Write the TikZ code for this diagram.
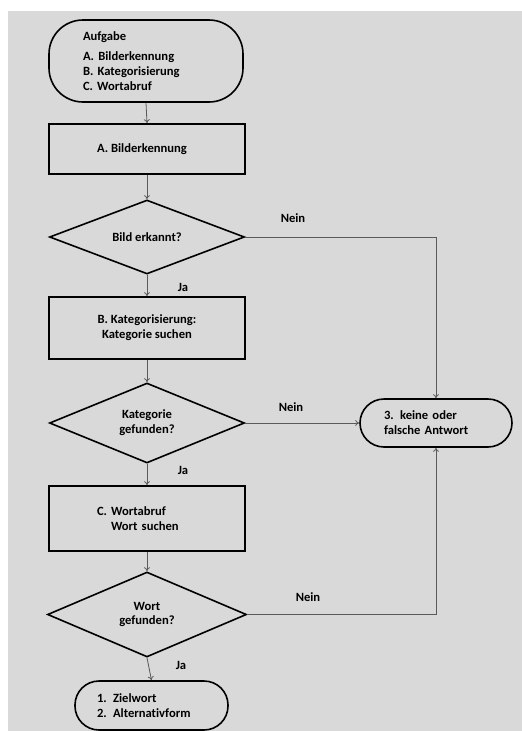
\documentclass[tikz,border=0pt]{standalone}
\usepackage{fontspec}
\setmainfont[Ligatures=NoCommon]{Carlito}
\usetikzlibrary{shapes.geometric,arrows.meta}
\definecolor{bggrey}{HTML}{D9D9D9}
\definecolor{linegrey}{HTML}{5A5A5A}
\begin{document}
\begin{tikzpicture}[x=1pt,y=-1pt,
  every node/.style={font=\bfseries\fontsize{12.6}{14.8}\selectfont, text=black},
  boxnode/.style={draw=black, line width=1.6pt, rectangle, minimum width=196pt, inner sep=0pt},
  termnode/.style={draw=black, line width=1.6pt, rectangle, inner sep=0pt},
  decnode/.style={draw=black, line width=1.6pt, diamond, shape aspect=2.5, inner sep=0pt, align=center},
  conn/.style={draw=linegrey, line width=0.8pt, -{To[length=4pt,width=6pt]}},
  lbl/.style={inner sep=0pt}
]
\useasboundingbox (0,0) rectangle (522,731);
\fill[bggrey] (8,11) rectangle (522,731);

\node[termnode, rounded corners=34pt, minimum width=194pt, minimum height=82pt, text width=126pt, align=left] (start) at (146,61)
  {Aufgabe\\[5pt] A. Bilderkennung\\ B. Kategorisierung\\ C. Wortabruf};
\node[boxnode, minimum height=50pt] (a) at (147,149) {\hspace*{-10pt}A. Bilderkennung};
\node[decnode, minimum width=195pt, minimum height=74pt] (d1) at (147,237) {Bild erkannt?};
\node[boxnode, minimum height=62pt, align=center] (b) at (147,328) {B. Kategorisierung:\\Kategorie suchen};
\node[decnode, minimum width=195pt, minimum height=80pt] (d2) at (147,423) {Kategorie\\gefunden?};
\node[boxnode, minimum height=65pt, text width=100pt, align=left] (c) at (147,518.5) {C. Wortabruf\\\hspace*{14pt}Wort suchen};
\node[decnode, minimum width=199pt, minimum height=85pt] (d3) at (147,614.5) {Wort\\gefunden?};
\node[termnode, rounded corners=24pt, minimum width=153pt, minimum height=49pt, text width=109pt, align=left] (endn) at (151.5,705.5) {1. Zielwort\\2. Alternativform};
\node[termnode, rounded corners=24pt, minimum width=152pt, minimum height=48pt, text width=104pt, align=left] (t3) at (436,423) {3. keine oder\\falsche Antwort};

\node[lbl] (n1) at (293,218) {Nein};
\node[lbl] (n2) at (291,407) {Nein};
\node[lbl] (n3) at (308,597) {Nein};
\node[lbl] (j1) at (183,287) {Ja};
\node[lbl] (j2) at (183,470) {Ja};
\node[lbl] (j3) at (181,665) {Ja};

\draw[conn] (start.south) -- (a.north);
\draw[conn] (a.south) -- (d1.north);
\draw[conn] (d1.south) -- (b.north);
\draw[conn] (b.south) -- (d2.north);
\draw[conn] (d2.south) -- (c.north);
\draw[conn] (c.south) -- (d3.north);
\draw[conn] (d3.south) -- (endn.north);
\draw[conn] (d1.east) -| (t3.north);
\draw[conn] (d2.east) -- (t3.west);
\draw[conn] (d3.east) -| (t3.south);
\end{tikzpicture}
\end{document}
